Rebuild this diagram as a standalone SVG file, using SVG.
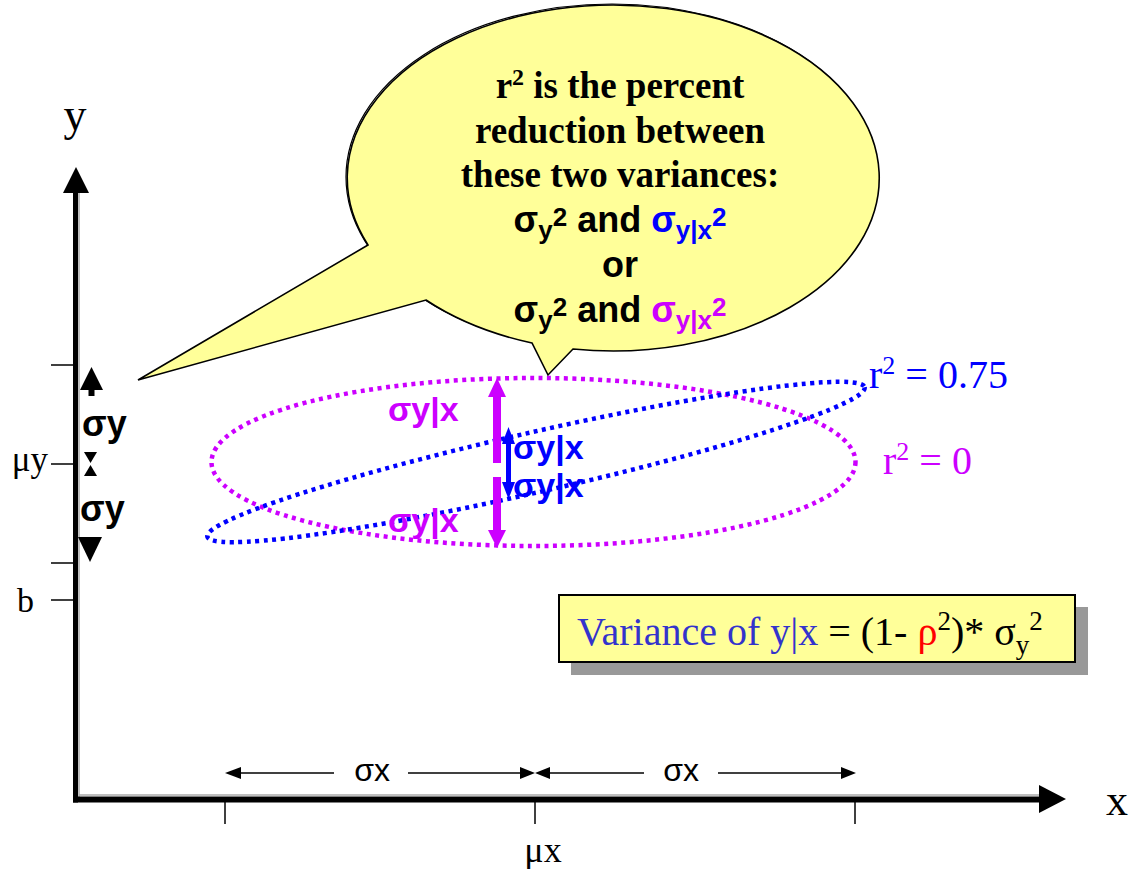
<svg xmlns="http://www.w3.org/2000/svg" width="1133" height="869" viewBox="0 0 1133 869">
<style>
.serif{font-family:"Liberation Serif","Times New Roman",serif}
.sans{font-family:"Liberation Sans",Arial,sans-serif}
.bold{font-weight:bold}
.tick{stroke:#000;stroke-width:1.5}
.thin{stroke:#000;stroke-width:1.5;fill:none}
.mag{fill:#CC00FF}
.blu{fill:#0000FF}
</style>
<rect width="1133" height="869" fill="#fff"/>
<!-- axes -->
<g id="axes">
  <line x1="79" y1="193" x2="79" y2="797" stroke="#aaa" stroke-width="1.5"/>
  <line x1="79" y1="795" x2="1039" y2="795" stroke="#aaa" stroke-width="1.5"/>
  <line x1="75.5" y1="190" x2="75.5" y2="802.5" stroke="#000" stroke-width="5"/>
  <polygon points="76,167 63,193 89,193" fill="#000"/>
  <line x1="73" y1="799.5" x2="1041" y2="799.5" stroke="#000" stroke-width="6"/>
  <polygon points="1066,799 1039,785 1039,813" fill="#000"/>
  <line class="tick" x1="51" y1="365" x2="74" y2="365"/>
  <line class="tick" x1="51" y1="464" x2="74" y2="464"/>
  <line class="tick" x1="51" y1="563" x2="74" y2="563"/>
  <line class="tick" x1="51" y1="600" x2="74" y2="600"/>
  <line class="tick" x1="225" y1="802" x2="225" y2="824"/>
  <line class="tick" x1="535" y1="802" x2="535" y2="824"/>
  <line class="tick" x1="855" y1="802" x2="855" y2="824"/>
  <text class="serif" x="75" y="130" font-size="46" text-anchor="middle">y</text>
  <text class="serif" x="1117" y="815" font-size="44" text-anchor="middle">x</text>
  <text class="serif" x="48" y="471" font-size="35" text-anchor="end">μy</text>
  <text class="serif" x="17" y="612" font-size="34">b</text>
  <text class="serif" x="543" y="862" font-size="36" text-anchor="middle">μx</text>
</g>
<!-- sigma y on the y axis -->
<g id="sigma-y">
  <polygon points="91.5,367 80,390 103,390" fill="#000"/>
  <rect x="88.5" y="389" width="6" height="7" fill="#000"/>
  <polygon points="84,452 97,452 90.5,463" fill="#000"/>
  <polygon points="90.5,465 84,476 97,476" fill="#000"/>
  <polygon points="78,537 102,537 90,562" fill="#000"/>
  <text class="sans bold" x="82" y="436" font-size="36">σy</text>
  <text class="sans bold" x="80" y="521" font-size="36">σy</text>
</g>
<!-- sigma x arrows -->
<g id="sigma-x">
  <polygon points="225,773 241,767 241,779" fill="#000"/>
  <line class="thin" x1="240" y1="773" x2="334" y2="773"/>
  <line class="thin" x1="408" y1="773" x2="521" y2="773"/>
  <polygon points="535,773 520,767 520,779" fill="#000"/>
  <polygon points="535,773 550,767 550,779" fill="#000"/>
  <line class="thin" x1="549" y1="773" x2="644" y2="773"/>
  <line class="thin" x1="718" y1="773" x2="842" y2="773"/>
  <polygon points="856,773 841,767 841,779" fill="#000"/>
  <text class="sans" x="372" y="781" font-size="32" text-anchor="middle">σx</text>
  <text class="sans" x="681" y="781" font-size="32" text-anchor="middle">σx</text>
</g>
<!-- ellipses -->
<g id="ellipse-r0">
  <ellipse cx="533.5" cy="462" rx="322" ry="84" fill="none" stroke="#CC00FF" stroke-width="4.5" stroke-dasharray="4 4.5"/>
</g>
<g id="ellipse-r075">
  <ellipse cx="536" cy="462" rx="337" ry="30" transform="rotate(-12.8 536 462)" fill="none" stroke="#0000FF" stroke-width="4.5" stroke-dasharray="4 4.5"/>
</g>
<!-- callout bubble -->
<g id="callout">
  <ellipse cx="612" cy="177" rx="266" ry="173" fill="none" stroke="#000" stroke-width="1.2"/>
  <path d="M368,245 L138,380 L426,300 A266,173 0 0 0 532,343 L548,375 L573,349 A266,173 0 1 0 368,245 Z" fill="#FFFF99" stroke="#000" stroke-width="1.6" stroke-linejoin="miter"/>
  <g class="serif bold" font-size="37" text-anchor="middle">
    <text x="620" y="98">r<tspan font-size="24" dy="-13">2</tspan><tspan dy="13"> is the percent</tspan></text>
    <text x="620" y="143">reduction between</text>
    <text x="620" y="187">these two variances:</text>
  </g>
  <g class="sans bold" text-anchor="middle">
    <text x="620" y="232" font-size="36">σ<tspan font-size="26" dy="7">y</tspan><tspan font-size="26" dy="-13">2</tspan><tspan dy="6"> and </tspan><tspan class="blu">σ</tspan><tspan class="blu" font-size="26" dy="7">y|x</tspan><tspan class="blu" font-size="26" dy="-13">2</tspan></text>
    <text x="620" y="277" font-size="36">or</text>
    <text x="620" y="322" font-size="36">σ<tspan font-size="26" dy="7">y</tspan><tspan font-size="26" dy="-13">2</tspan><tspan dy="6"> and </tspan><tspan class="mag">σ</tspan><tspan class="mag" font-size="26" dy="7">y|x</tspan><tspan class="mag" font-size="26" dy="-13">2</tspan></text>
  </g>
</g>
<!-- sigma y|x arrows -->
<g id="sigma-yx-r0">
  <polygon points="497,378 488,397 506,397" fill="#CC00FF"/>
  <rect x="493" y="395" width="8" height="68" fill="#CC00FF"/>
  <rect x="493" y="477" width="8" height="55" fill="#CC00FF"/>
  <polygon points="488,530 506,530 497,548" fill="#CC00FF"/>
  <text class="sans bold mag" x="388" y="421" font-size="34">σy|x</text>
  <text class="sans bold mag" x="388" y="532" font-size="34">σy|x</text>
</g>
<g id="sigma-yx-r075">
  <polygon points="508.5,427 502,444 515,444" fill="#0000FF"/>
  <rect x="506" y="442" width="5" height="42" fill="#0000FF"/>
  <polygon points="502,482 515,482 508.5,499" fill="#0000FF"/>
  <text class="sans bold blu" x="513" y="459" font-size="34">σy|x</text>
  <text class="sans bold blu" x="513" y="497" font-size="34">σy|x</text>
</g>
<!-- r2 labels -->
<g id="label-r075">
  <text class="serif" x="869" y="388" font-size="40" fill="#0000FF">r<tspan font-size="26" dy="-14">2</tspan><tspan dy="14"> = 0.75</tspan></text>
</g>
<g id="label-r0">
  <text class="serif" x="883" y="474" font-size="40" fill="#CC00FF">r<tspan font-size="26" dy="-14">2</tspan><tspan dy="14"> = 0</tspan></text>
</g>
<!-- formula box -->
<g id="formula">
  <rect x="571" y="607" width="517" height="68" fill="#999"/>
  <rect x="559" y="595" width="516" height="67" fill="#FFFF99" stroke="#000" stroke-width="2"/>
  <text class="serif" x="577" y="645" font-size="40" fill="#3333CC">Variance of y|x <tspan fill="#000">= (1- </tspan><tspan fill="#FF0000">ρ</tspan><tspan fill="#000" font-size="27" dy="-15">2</tspan><tspan fill="#000" dy="15">)* σ</tspan><tspan fill="#000" font-size="27" dy="9">y</tspan><tspan fill="#000" font-size="27" dy="-24">2</tspan></text>
</g>
</svg>
